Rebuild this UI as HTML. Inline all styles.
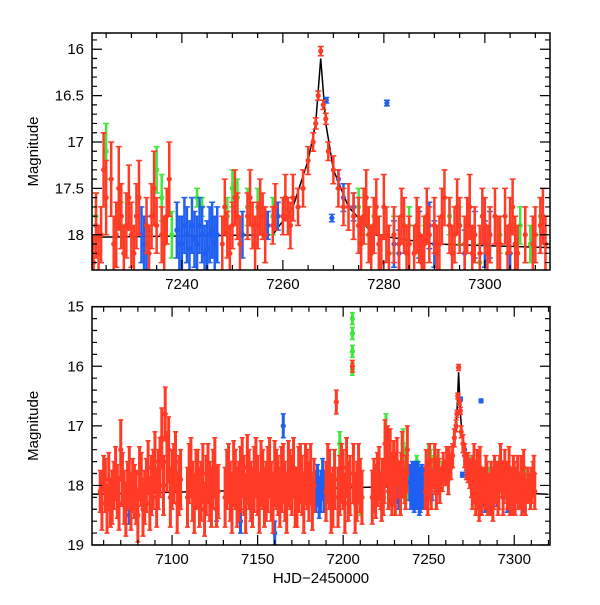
<!DOCTYPE html>
<html><head><meta charset="utf-8"><style>
html,body{margin:0;padding:0;background:#fff}
svg text{font-family:"Liberation Sans",sans-serif;font-size:15px;fill:#000}
</style></head><body>
<svg id="c" width="600" height="600" xmlns="http://www.w3.org/2000/svg"></svg>
<script>
// [day, magnitude, error]
const redPoints = [
[7058,18.1,.35],[7060,17.8,.3],[7062,18.4,.4],[7064,18.3,.4],[7066,18.0,.4],[7068,18.1,.45],[7070,17.4,.5],[7072,18.2,.45],[7074,18.0,.4],[7076,18.3,.45],[7078,18.1,.45],[7080,18.5,.45],[7082,17.9,.45],[7084,18.2,.45],[7086,17.7,.45],[7088,18.0,.5],[7090,17.6,.5],[7092,17.9,.5],[7094,17.2,.5],[7096,16.8,.45],[7098,17.4,.55],[7100,17.9,.5],[7102,17.6,.5],[7104,18.0,.5],
[7110,17.8,.5],[7112,18.1,.5],[7114,17.9,.5],[7116,18.2,.5],[7118,17.8,.5],[7120,18.0,.5],[7122,18.1,.5],[7124,17.9,.5],[7126,18.2,.5],
[7132,17.9,.5],[7134,18.1,.5],[7136,17.8,.55],[7138,18.2,.5],[7140,17.9,.55],[7142,18.0,.5],[7144,17.7,.55],[7146,18.1,.5],[7148,17.9,.55],[7150,18.0,.5],[7152,17.8,.55],[7154,18.2,.5],[7156,17.9,.55],[7158,18.1,.5],[7160,17.8,.55],[7162,18.0,.5],[7164,17.9,.55],[7166,18.1,.5],[7168,17.8,.55],[7170,18.0,.5],[7172,18.2,.5],[7174,17.9,.55],[7176,18.0,.5],[7178,17.8,.5],[7180,18.1,.5],[7182,18.3,.45],
[7190,18.1,.5],[7192,17.9,.5],[7194,18.2,.5],[7196,16.6,.2],[7198,18.0,.5],[7200,17.9,.5],[7202,17.7,.5],[7204,18.0,.5],[7205.4,16.0,.1],[7206,17.8,.5],[7208,18.1,.5],[7210,18.0,.45],
[7218,18.0,.45],[7220,17.9,.45],
[7222,18.1,.3],[7223,17.9,.35],[7224,18.0,.3],[7225,17.6,.4],[7226,17.4,.4],[7227,18.0,.35],[7228,17.8,.35],[7229,17.9,.35],[7230,18.0,.35],[7231,17.8,.35],[7233,17.9,.3],[7234,17.8,.35],[7235,17.9,.3],[7236,18.0,.3],[7237,17.8,.3],
[7248,18.1,.3],[7249,18.0,.25],[7250,17.9,.25],[7251,17.8,.25],[7253,17.8,.25],[7254,17.9,.25],[7255,17.9,.25],[7256,17.8,.25],[7258,17.9,.2],[7260,17.8,.2],[7261,17.8,.2],[7262,17.6,.25],[7263,17.7,.2],[7264,17.5,.2],[7265,17.2,.15],[7266,17.0,.1],[7266.5,16.8,.06],[7267,16.5,.05],[7267.5,16.02,.05],[7268,16.6,.05],[7268.5,16.75,.06],[7269,17.1,.1],[7270,17.3,.15],[7271,17.5,.2],[7272,17.7,.2],[7273,17.7,.25],[7274,17.8,.25],[7275,17.9,.3],[7276,17.8,.3],[7277,18.0,.3],[7278,17.9,.3],[7279,18.1,.3],[7280,17.7,.35],[7281,18.2,.3],[7282,18.0,.3],[7283,18.1,.3],[7284,17.9,.3],[7285,18.1,.3],[7286,18.2,.3],[7287,18.0,.3],[7288,18.1,.3],[7289,18.0,.3],[7290,17.9,.3],[7291,18.1,.3],[7292,17.6,.3],[7293,17.9,.3],[7294,18.0,.3],[7295,17.9,.3],[7296,18.1,.3],[7297,17.7,.35],[7298,18.0,.3],[7299,18.2,.3],[7300,17.9,.3],[7301,18.0,.3],[7302,17.8,.3],[7303,18.1,.3],[7304,17.8,.3],[7305,17.9,.3],[7306,18.1,.3],[7308,18.0,.3],[7310,18.0,.3],[7311,17.9,.3],[7312,18.1,.3]
];
const redExtraPoints = [
[7059,18.3,.45],[7061,18.0,.45],[7063,17.9,.45],[7065,18.2,.45],[7067,17.8,.45],[7069,18.3,.45],[7071,17.9,.45],[7073,18.4,.45],[7075,17.8,.45],[7077,18.0,.45],[7079,18.2,.45],[7081,17.8,.45],[7083,18.4,.45],[7085,18.0,.45],[7087,18.3,.45],[7089,17.9,.5],[7091,18.2,.5],[7093,17.7,.5],[7095,18.0,.5],[7097,17.6,.5],[7099,18.2,.5],[7101,17.8,.5],[7103,18.3,.5],[7105,17.9,.5],
[7109,18.2,.5],[7111,17.7,.5],[7113,18.3,.5],[7115,17.9,.5],[7117,18.1,.5],[7119,18.4,.45],[7121,17.8,.5],[7123,18.2,.5],[7125,17.7,.5],[7127,18.1,.45],
[7131,18.2,.5],[7133,17.8,.5],[7135,18.3,.5],[7137,17.9,.5],[7139,18.1,.5],[7141,17.7,.5],[7143,18.3,.5],[7145,17.9,.5],[7147,18.2,.5],[7149,17.7,.5],[7151,18.3,.5],[7153,17.9,.5],[7155,18.1,.5],[7157,17.7,.5],[7159,18.3,.5],[7161,17.9,.5],[7163,18.2,.5],[7165,17.8,.5],[7167,18.3,.5],[7169,17.9,.5],[7171,17.7,.5],[7173,18.2,.5],[7175,17.8,.5],[7177,18.3,.5],[7179,17.9,.5],[7181,17.8,.5],[7183,18.0,.45],
[7191,17.8,.5],[7193,18.3,.5],[7195,17.9,.5],[7197,18.2,.5],[7199,17.8,.5],[7201,18.3,.5],[7203,18.1,.5],[7207,18.3,.5],[7209,17.8,.5],[7211,18.2,.45],
[7217,18.2,.45],[7219,18.1,.45],[7221,17.8,.45],
[7222.5,18.3,.3],[7223.5,18.2,.3],[7224.5,17.3,.4],[7226.5,18.1,.3],[7227.5,17.5,.45],[7228.5,18.2,.3],[7229.5,17.6,.35],[7230.5,18.2,.3],[7231.5,17.6,.4],[7233.5,18.2,.3],[7234.5,17.5,.4],[7236.5,18.1,.3],[7237.5,17.4,.4],
[7248.5,17.7,.3],[7249.5,18.2,.3],[7250.5,17.6,.3],[7251.5,18.1,.3],[7253.5,17.6,.3],[7254.5,18.1,.3],[7255.5,17.7,.3],[7256.5,18.0,.3],[7258.5,17.7,.25],[7260.5,17.6,.25],[7261.5,17.9,.25],
[7275.5,18.1,.3],[7276.5,17.6,.3],[7277.5,18.2,.3],[7278.5,17.7,.3],[7279.5,18.3,.3],[7280.5,18.0,.3],[7283.5,17.8,.3],[7284.5,18.2,.3],[7286.5,17.9,.3],[7287.5,18.3,.3],[7288.5,17.8,.3],[7290.5,18.2,.3],[7291.5,17.8,.3],[7293.5,18.2,.3],[7294.5,17.7,.3],[7296.5,17.9,.3],[7297.5,18.2,.3],[7299.5,17.8,.3],[7300.5,18.2,.3],[7302.5,18.1,.3],[7304.5,18.2,.3],[7305.5,17.7,.3],[7306.5,18.2,.3],[7309.5,18.1,.3],[7311.5,17.8,.3]
];
const bluePoints = [
[7075,18.5,.15],[7104,17.8,.2],[7126,18.4,.2],[7140,18.6,.2],[7160,18.8,.2],[7165,17.0,.2],
[7184,18.1,.35],[7185,18.0,.35],[7186,18.2,.35],[7187,18.1,.35],[7188,17.9,.35],[7189,18.1,.35],
[7232,18.0,.3],[7232.5,18.1,.3],[7233,18.1,.3],[7239,17.95,.3],[7239.5,18.1,.3],[7240,18.1,.3],[7240.5,17.9,.3],[7241,18.0,.3],[7241.5,18.15,.3],[7242,17.9,.3],[7242.5,18.05,.3],[7243,18.1,.3],[7243.5,17.9,.3],[7244,18.0,.3],[7244.5,18.2,.3],[7245,18.15,.3],[7245.5,18.0,.3],[7246,17.95,.3],[7246.5,18.1,.3],[7247,18.0,.3],
[7252,18.0,.25],[7257,17.9,.15],[7259,17.8,.15],[7268.6,16.55,.03],[7269.7,17.82,.04],[7271,17.4,.1],[7272,17.6,.15],[7274,17.7,.15],[7280.6,16.58,.03],
[7282,18.1,.25],[7283,18.2,.25],[7287,18.0,.25],[7289,17.9,.25],[7290,18.1,.25],[7296,18.2,.25],[7298,18.0,.25],[7300,18.1,.25],[7301,18.0,.25],[7305,18.2,.25]
];
const greenPoints = [
[7198,17.3,.2],[7205.4,15.2,.1],[7205.4,15.45,.1],[7205.4,15.75,.1],[7205.4,16.05,.1],[7210,18.3,.2],
[7223,17.8,.25],[7225,17.1,.3],[7228,17.9,.25],[7235,17.3,.25],[7236,17.6,.25],[7238,18.0,.25],[7243,17.6,.1],[7244,17.7,.1],[7249,17.8,.2],[7250,17.5,.2],[7251,17.6,.2],[7253,17.7,.2],[7255,17.7,.2],[7258,17.8,.2],
[7275,17.7,.2],[7276,17.8,.2],[7277,17.9,.2],[7278,17.8,.2],[7282,18.0,.2],[7285,17.9,.2],[7288,18.1,.2],[7293,17.8,.2],[7295,17.9,.2],[7299,18.3,.2],[7303,18.0,.2],[7307,17.9,.2],[7309,18.1,.2],[7311,17.8,.2]
];
const modelDays = [7050,7258,7262,7265,7266.5,7267.5,7268.5,7270,7273,7278,7290,7320];
const modelMags = [18.15,18.0,17.7,17.2,16.8,16.1,16.8,17.3,17.7,18.0,18.1,18.15];
const topXTicks = [7240,7260,7280,7300];
const topYTicks = [16,16.5,17,17.5,18];
const botXTicks = [7100,7150,7200,7250,7300];
const botYTicks = [15,16,17,18,19];

const NS="http://www.w3.org/2000/svg";
const svg=document.getElementById('c');
function mk(tag,attrs,parent){const e=document.createElementNS(NS,tag);for(const k in attrs)e.setAttribute(k,attrs[k]);(parent||svg).appendChild(e);return e;}

const panels=[
 {name:'top',x0:92,x1:550,y0:33,y1:270,d0:7222.2,d1:7312.9,m0:15.825,m1:18.38,xt:topXTicks,yt:topYTicks,xminor:5,yminor:0.1,sw:2.5,cap:3},
 {name:'bottom',x0:92,x1:550,y0:306.7,y1:545,d0:7053.2,d1:7320.9,m0:15,m1:19,xt:botXTicks,yt:botYTicks,xminor:10,yminor:0.2,sw:3,cap:2.5}
];
const colors={green:'#3fe83a',blue:'#1f5ff2',red:'#ff3b26'};

panels.forEach((p,pi)=>{
 const X=d=>p.x0+(d-p.d0)/(p.d1-p.d0)*(p.x1-p.x0);
 const Y=m=>p.y0+(m-p.m0)/(p.m1-p.m0)*(p.y1-p.y0);
 const g=mk('g',{});
 
 
 const cid='clip'+pi;
 const cp=mk('clipPath',{id:cid},g);mk('rect',{x:p.x0,y:p.y0,width:p.x1-p.x0,height:p.y1-p.y0},cp);
 const data=mk('g',{'clip-path':'url(#'+cid+')'},g);
 let dstr='';modelDays.forEach((d,i)=>{dstr+=(i?'L':'M')+X(d).toFixed(1)+' '+Y(modelMags[i]).toFixed(1);});
 const ml=mk('path',{d:dstr,fill:'none',stroke:'#000','stroke-width':1.5},data);
 
 
 [['green',greenPoints],['blue',bluePoints],['red',redExtraPoints],['red',redPoints]].forEach(([cn,pts])=>{
  const sg=mk('g',{stroke:colors[cn],fill:colors[cn]},data);
  
  
  const cap=p.cap;
  pts.forEach(pt=>{
   const x=X(pt[0]),y=Y(pt[1]),ya=Y(pt[1]-pt[2]),yb=Y(pt[1]+pt[2]);
   mk('path',{d:`M${x} ${ya}V${yb}`,'stroke-width':p.sw,fill:'none'},sg);
   mk('path',{d:`M${x-cap} ${ya}h${2*cap}M${x-cap} ${yb}h${2*cap}`,'stroke-width':1.5,fill:'none'},sg);
   mk('circle',{cx:x,cy:y,r:2.6,stroke:'none'},sg);
  });
 });
 const fr=mk('rect',{x:p.x0,y:p.y0,width:p.x1-p.x0,height:p.y1-p.y0,fill:'none',stroke:'#000','stroke-width':1.5},g);
 
 
 let tk='';
 const step=p.xt[1]-p.xt[0];
 for(let d=Math.ceil(p.d0/p.xminor)*p.xminor;d<=p.d1;d+=p.xminor){
  const major=(d%step===0);
  const L=major?10:5,x=X(d);
  tk+=`M${x} ${p.y1}v${-L}M${x} ${p.y0}v${L}`;
 }
 for(let k=Math.ceil(p.m0/p.yminor-1e-6);k*p.yminor<=p.m1+1e-6;k++){
  const m=k*p.yminor;const major=p.yt.some(v=>Math.abs(v-m)<1e-6);
  const L=major?10:5,y=Y(m);
  tk+=`M${p.x0} ${y}h${L}M${p.x1} ${y}h${-L}`;
 }
 mk('path',{d:tk,stroke:'#000','stroke-width':1.2,fill:'none'},g);
 p.xt.forEach(v=>{const t=mk('text',{x:X(v),y:p.y1+19,'text-anchor':'middle'},g);t.textContent=String(v);
  
  });
 p.yt.forEach(v=>{const t=mk('text',{x:p.x0-8,y:Y(v)+5,'text-anchor':'end'},g);t.textContent=String(v);
  
  });
 const yl=mk('text',{x:0,y:0,'text-anchor':'middle',transform:`translate(38,${(p.y0+p.y1)/2}) rotate(-90)`},g);
 yl.textContent='Magnitude';
 
 
});
const xl=mk('text',{x:321,y:583,'text-anchor':'middle'});
xl.textContent='HJD\u22122450000';


</script>
</body></html>
